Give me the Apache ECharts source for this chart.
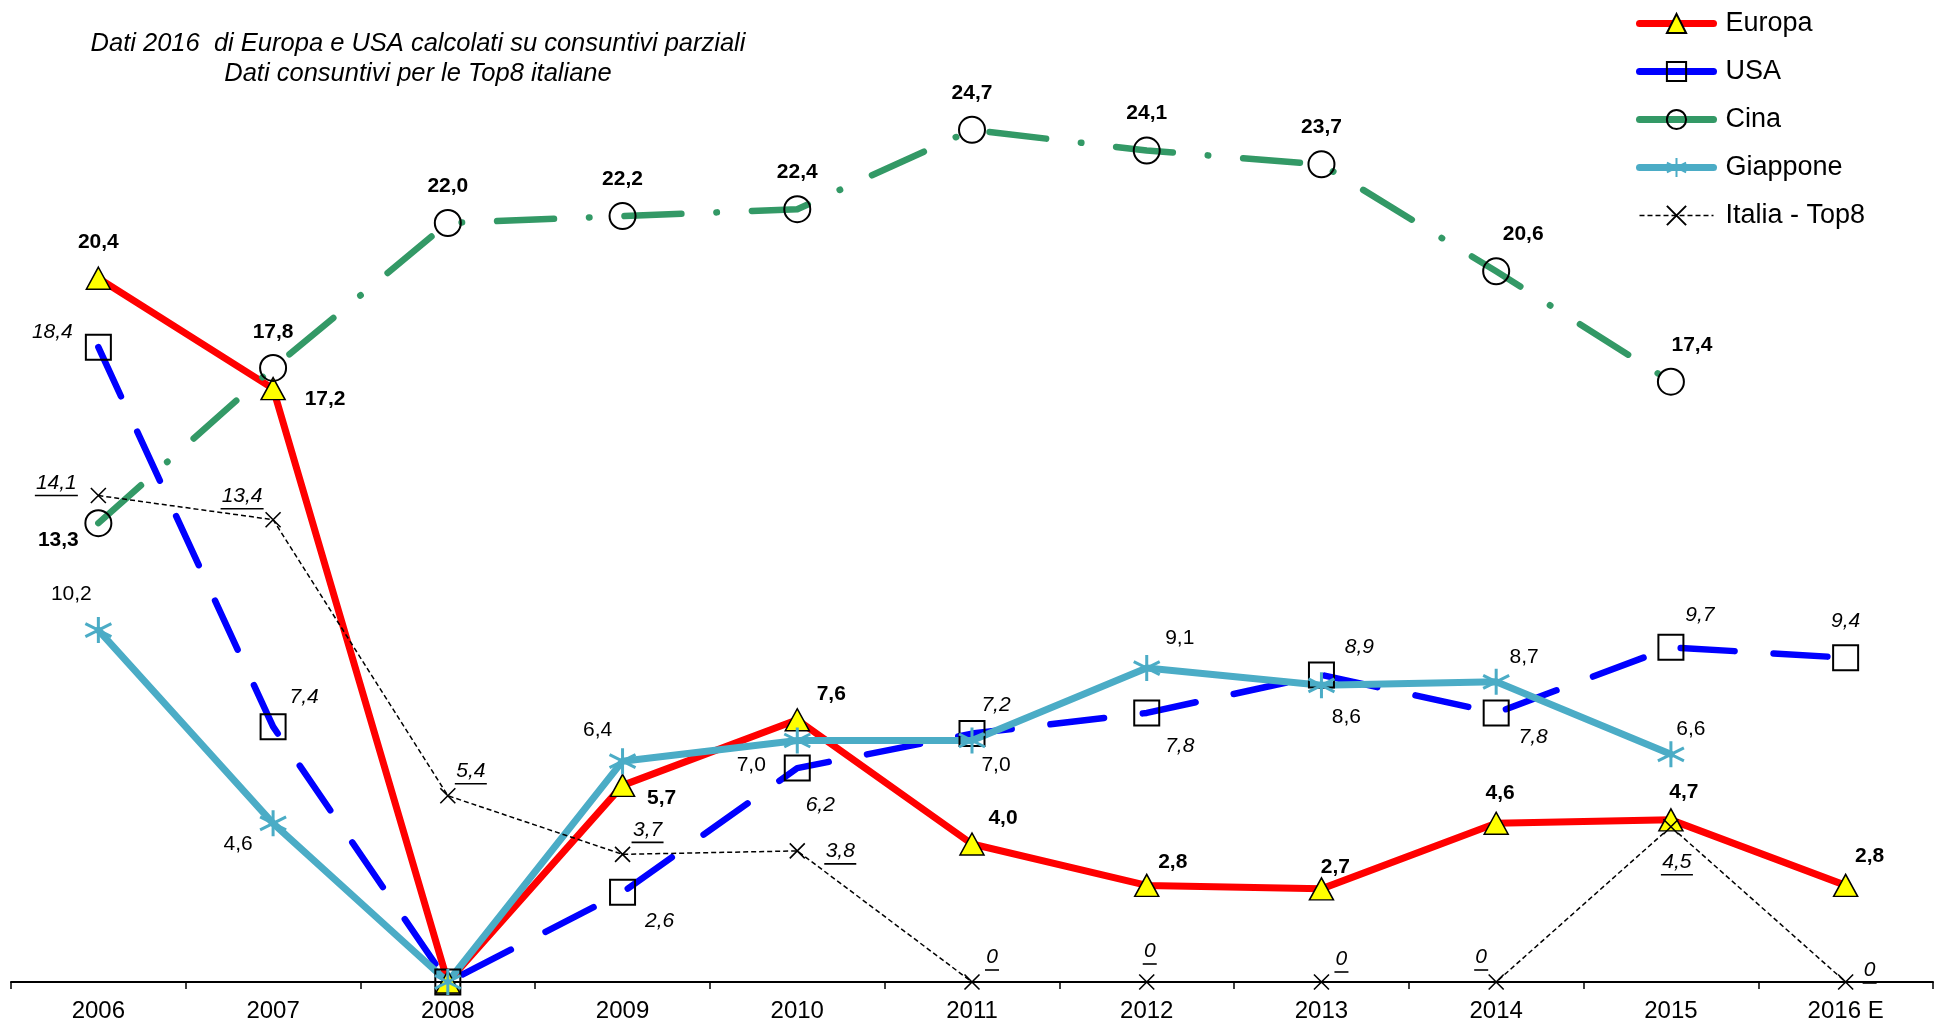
<!DOCTYPE html>
<html>
<head>
<meta charset="utf-8">
<script src="https://cdn.jsdelivr.net/npm/echarts@6/dist/echarts.min.js"></script>
<style>
  html, body { margin: 0; padding: 0; background: #fff; }
  #chart { width: 1943px; height: 1029px; }
</style>
</head>
<body>
<div id="chart"></div>
<script>
// anni
var years = ['2006', '2007', '2008', '2009', '2010', '2011', '2012', '2013', '2014', '2015', '2016 E'];

// valori per area
var europa   = [20.4, 17.2, 0, 5.7, 7.6, 4.0, 2.8, 2.7, 4.6, 4.7, 2.8];
var usa      = [18.4, 7.4, 0, 2.6, 6.2, 7.2, 7.8, 8.9, 7.8, 9.7, 9.4];
var cina     = [13.3, 17.8, 22.0, 22.2, 22.4, 24.7, 24.1, 23.7, 20.6, 17.4, null];
var giappone = [10.2, 4.6, 0, 6.4, 7.0, 7.0, 9.1, 8.6, 8.7, 6.6, null];
var italia   = [14.1, 13.4, 5.4, 3.7, 3.8, 0, 0, 0, 0, 4.5, 0];

var note = ['Dati 2016  di Europa e USA calcolati su consuntivi parziali', 'Dati consuntivi per le Top8 italiane'];

// spostamento delle etichette rispetto al simbolo (null = nessuna etichetta)
var europaLbl = [[0,-36],[52,11],null,[39,13],[34,-26],[31,-26],[26,-23],[14,-22],[4,-30],[13,-28],[24,-29]];
var usaLbl    = [[-46,-15],[31,-30],null,[37,29],[23,37],[24,-28],[33,33],[38,-28],[37,24],[29,-32],[0,-37]];
var cinaLbl   = [[-40,17],[0,-36],[0,-37],[0,-37],[0,-37],[0,-37],[0,-37],[0,-37],[27,-37],[21,-36],null];
var giapLbl   = [[-27,-36],[-35,21],null,[-25,-31],[-46,25],[24,25],[33,-30],[25,32],[28,-25],[20,-25],null];
var italiaLbl = [[-42,-11],[-31,-22],[23,-23],[25,-23],[43,2],[20,-23],[3,-29],[20,-21],[-15,-23],[6,37],[24,-10]];

var FONT = '"Liberation Sans", Arial, sans-serif';

function fmt(v) { return v.toFixed(1).replace('.', ','); }
function fmtIt(v) { return v === 0 ? '0' : fmt(v); }

// larghezza del testo, per la sottolineatura
var ctx = document.createElement('canvas').getContext('2d');
ctx.font = 'italic 21px ' + FONT;
function textW(t) { return Math.ceil(ctx.measureText(t).width) + 2; }

function mkData(vals, offs, underline) {
	return vals.map(function(v, i) {
		if (v == null) return null;
		var lbl = offs[i] ? { show: true, offset: offs[i] } : { show: false };
		if (underline && offs[i]) {
			lbl.rich = {
				a: { fontSize: 21, fontStyle: 'italic', color: '#000', lineHeight: 22, fontFamily: FONT },
				u: { width: textW(fmtIt(v)), height: 1.6, lineHeight: 3, backgroundColor: '#000' }
			};
		}
		return { value: v, label: lbl };
	});
}

function baseLabel(extra) {
	var l = { show: true, position: 'inside', color: '#000', fontSize: 21, fontFamily: FONT };
	for (var k in extra) l[k] = extra[k];
	return l;
}

var star = 'path://M10,0L10,20M1.3,5L18.7,15M1.3,15L18.7,5';
var cross = 'path://M0,0L10,10M0,10L10,0';

var myChart = echarts.init(document.getElementById('chart'));
myChart.setOption({
	animation: false,
	backgroundColor: '#fff',
	textStyle: { fontFamily: FONT },
	grid: { left: 11, right: 10, top: 16, bottom: 47 },
	graphic: note.map(function(t, i) {
		return {
			type: 'text', x: 418, y: 44 + i * 30, silent: true,
			style: { text: t, font: 'italic 25.5px ' + FONT, fill: '#000',
				textAlign: 'center', textVerticalAlign: 'middle', align: 'center', verticalAlign: 'middle' }
		};
	}),
	legend: {
		orient: 'vertical', left: 1636, top: 10, padding: 0,
		itemWidth: 74, itemHeight: 24, itemGap: 21,
		selectedMode: false,
		textStyle: { fontSize: 27, color: '#000', fontFamily: FONT, lineHeight: 24, padding: [0, 0, 0, 7] },
		data: [
			{ name: 'Europa', lineStyle: { width: 7 } },
			{ name: 'USA', lineStyle: { type: 'solid', width: 7 } },
			{ name: 'Cina', lineStyle: { type: 'solid', width: 7 } },
			{ name: 'Giappone', lineStyle: { width: 7 } },
			{ name: 'Italia - Top8', lineStyle: { width: 1.5 } }
		]
	},
	xAxis: {
		type: 'category', data: years, boundaryGap: true,
		axisLine: { lineStyle: { color: '#000', width: 2 } },
		axisTick: { show: true, length: 7, lineStyle: { color: '#000', width: 1.5 } },
		axisLabel: { color: '#000', fontSize: 24, margin: 17, fontFamily: FONT },
		splitLine: { show: false }
	},
	yAxis: { type: 'value', min: 0, max: 28, show: false, splitLine: { show: false } },
	series: [
		{
			name: 'Europa', type: 'line', data: mkData(europa, europaLbl), showAllSymbol: true,
			symbol: 'triangle', symbolSize: [24, 22],
			lineStyle: { color: '#ff0000', width: 7, cap: 'round', join: 'round' },
			itemStyle: { color: '#ffff00', borderColor: '#000', borderWidth: 1.5 },
			label: baseLabel({ fontWeight: 'bold', formatter: function(p) { return fmt(p.value); } })
		},
		{
			name: 'USA', type: 'line', data: mkData(usa, usaLbl), showAllSymbol: true,
			symbol: 'rect', symbolSize: 25,
			lineStyle: { color: '#0000ff', width: 6.5, type: [54, 39], cap: 'round', join: 'round' },
			itemStyle: { color: 'rgba(255,255,255,0)', borderColor: '#000', borderWidth: 2 },
			label: baseLabel({ fontStyle: 'italic', formatter: function(p) { return fmt(p.value); } })
		},
		{
			name: 'Cina', type: 'line', data: mkData(cina, cinaLbl), showAllSymbol: true,
			symbol: 'circle', symbolSize: 26,
			lineStyle: { color: '#339966', width: 6.5, type: [57, 35, 0.5, 35], cap: 'round', join: 'round' },
			itemStyle: { color: 'rgba(255,255,255,0)', borderColor: '#000', borderWidth: 2 },
			label: baseLabel({ fontWeight: 'bold', formatter: function(p) { return fmt(p.value); } })
		},
		{
			name: 'Giappone', type: 'line', data: mkData(giappone, giapLbl), showAllSymbol: true,
			symbol: star, symbolSize: 26,
			lineStyle: { color: '#4bacc6', width: 7, cap: 'round', join: 'round' },
			itemStyle: { color: '#4bacc6', borderColor: '#4bacc6', borderWidth: 3 },
			label: baseLabel({ formatter: function(p) { return fmt(p.value); } })
		},
		{
			name: 'Italia - Top8', type: 'line', data: mkData(italia, italiaLbl, true), showAllSymbol: true,
			symbol: cross, symbolSize: 15,
			lineStyle: { color: '#000', width: 1.5, type: [5, 3] },
			itemStyle: { color: '#000', borderColor: '#000', borderWidth: 1.6 },
			label: baseLabel({
				fontStyle: 'italic',
				formatter: function(p) { return '{a|' + fmtIt(p.value) + '}\n{u|}'; }
			})
		}
	]
});
</script>
</body>
</html>
